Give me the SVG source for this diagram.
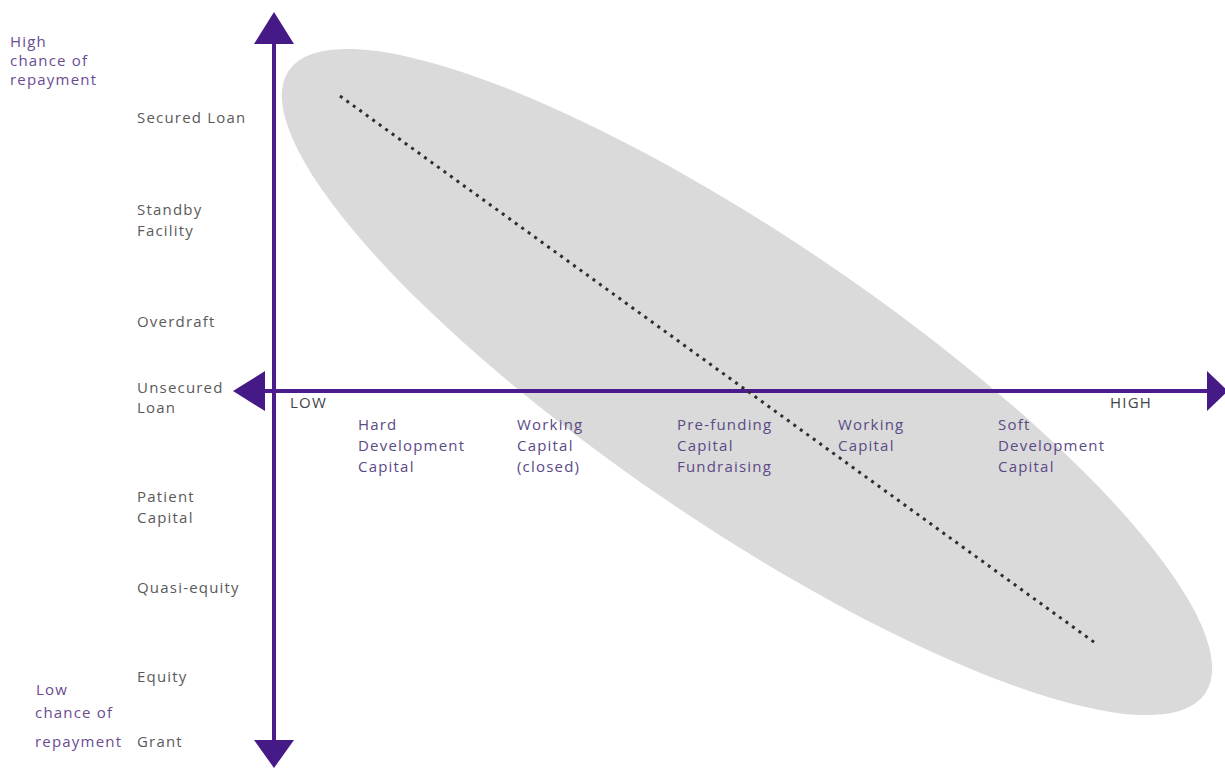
<svg xmlns="http://www.w3.org/2000/svg" width="1225" height="769" viewBox="0 0 1225 769">
<style>
text{font-family:"Open Sans","Liberation Sans",sans-serif;font-size:15px;letter-spacing:1.2px}
.lt{fill:#5a5a5a}
.px{fill:#5b4a86}
.pt{fill:#6a4c93}
.ax{fill:#444}
.axis{stroke:#4b1c8e;stroke-width:4;fill:none}
.head{fill:#451a86}
</style>
<rect width="1225" height="769" fill="#fff"/>
<g id="region">
<ellipse cx="747" cy="382" rx="554" ry="143" transform="rotate(34.2 747 382)" fill="#dadada"/>
</g>
<g id="connectors">
<line class="axis" x1="274" y1="40" x2="274" y2="744"/>
<line class="axis" x1="262" y1="391" x2="1210" y2="391"/>
<polygon class="head" points="274,12 294,44 254,44"/>
<polygon class="head" points="274,768 294,740 254,740"/>
<polygon class="head" points="233,391 265,371 265,411"/>
<polygon class="head" points="1228,391 1207,371 1207,411"/>
<line x1="340" y1="96" x2="1098" y2="645" stroke="#2e2e2e" stroke-width="3" stroke-dasharray="3 5"/>
</g>
<g id="y-high"><text class="pt" x="10" y="47">High</text><text class="pt" x="10" y="66">chance of</text><text class="pt" x="10" y="85">repayment</text></g>
<g id="y-low"><text class="pt" x="36" y="695">Low</text><text class="pt" x="35" y="718">chance of</text><text class="pt" x="35" y="747">repayment</text></g>
<g id="secured-loan"><text class="lt" x="137" y="123">Secured Loan</text></g>
<g id="standby-facility"><text class="lt" x="137" y="215">Standby</text><text class="lt" x="137" y="236">Facility</text></g>
<g id="overdraft"><text class="lt" x="137" y="327">Overdraft</text></g>
<g id="unsecured-loan"><text class="lt" x="137" y="393">Unsecured</text><text class="lt" x="137" y="413">Loan</text></g>
<g id="patient-capital"><text class="lt" x="137" y="502">Patient</text><text class="lt" x="137" y="523">Capital</text></g>
<g id="quasi-equity"><text class="lt" x="137" y="593">Quasi-equity</text></g>
<g id="equity"><text class="lt" x="137" y="682">Equity</text></g>
<g id="grant"><text class="lt" x="137" y="747">Grant</text></g>
<g id="low"><text class="ax" x="290" y="408">LOW</text></g>
<g id="high"><text class="ax" x="1110" y="408">HIGH</text></g>
<g id="hard-dev"><text class="px" x="358" y="430">Hard</text><text class="px" x="358" y="451">Development</text><text class="px" x="358" y="472">Capital</text></g>
<g id="wc-closed"><text class="px" x="517" y="430">Working</text><text class="px" x="517" y="451">Capital</text><text class="px" x="517" y="472">(closed)</text></g>
<g id="prefunding"><text class="px" x="677" y="430">Pre-funding</text><text class="px" x="677" y="451">Capital</text><text class="px" x="677" y="472">Fundraising</text></g>
<g id="wc"><text class="px" x="838" y="430">Working</text><text class="px" x="838" y="451">Capital</text></g>
<g id="soft-dev"><text class="px" x="998" y="430">Soft</text><text class="px" x="998" y="451">Development</text><text class="px" x="998" y="472">Capital</text></g>
</svg>
